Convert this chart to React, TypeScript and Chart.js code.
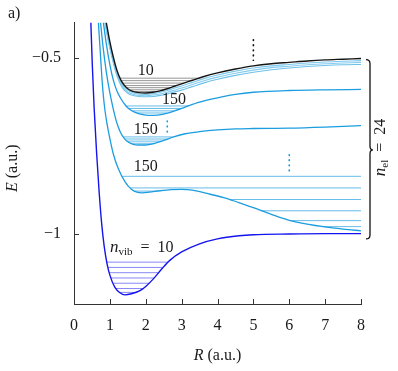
import React, { useEffect, useRef } from 'react';
import { Chart, registerables } from 'chart.js';

Chart.register(...registerables);

const FONT = '"Liberation Serif", "DejaVu Serif", serif';

const X_TICKS = [0, 1, 2, 3, 4, 5, 6, 7, 8];
const Y_TICKS = [-1, -0.5];

// Potential curves (R in a.u., E in a.u.)
const R_BLACK = [0.9, 1.0, 1.1, 1.2, 1.3, 1.4, 1.5, 1.6, 1.8, 2.0, 2.2, 2.4, 2.6, 2.8, 3.0, 3.3, 3.6, 4.0, 4.5, 5.0, 5.5, 6.0, 6.5, 7.0, 7.5, 8.0];
const E_BLACK = [-0.40, -0.455, -0.50, -0.537, -0.562, -0.578, -0.588, -0.594, -0.599, -0.600, -0.598, -0.594, -0.588, -0.581, -0.574, -0.564, -0.554, -0.543, -0.532, -0.523, -0.517, -0.513, -0.509, -0.506, -0.504, -0.502];

const R_LB1 = [0.88, 0.98, 1.08, 1.18, 1.28, 1.38, 1.5, 1.6, 1.8, 2.0, 2.2, 2.4, 2.6, 2.8, 3.0, 3.3, 3.6, 4.0, 4.5, 5.0, 5.5, 6.0, 6.5, 7.0, 7.5, 8.0];
const E_LB1 = [-0.40, -0.455, -0.50, -0.538, -0.564, -0.581, -0.592, -0.598, -0.603, -0.604, -0.602, -0.598, -0.593, -0.586, -0.580, -0.570, -0.560, -0.549, -0.538, -0.529, -0.523, -0.519, -0.515, -0.512, -0.510, -0.508];

const R_LB2 = [0.87, 0.97, 1.07, 1.17, 1.27, 1.37, 1.5, 1.6, 1.8, 2.0, 2.2, 2.4, 2.6, 2.8, 3.0, 3.3, 3.6, 4.0, 4.5, 5.0, 5.5, 6.0, 6.5, 7.0, 7.5, 8.0];
const E_LB2 = [-0.40, -0.455, -0.50, -0.539, -0.566, -0.584, -0.597, -0.602, -0.607, -0.608, -0.606, -0.603, -0.598, -0.592, -0.586, -0.576, -0.566, -0.555, -0.544, -0.535, -0.528, -0.524, -0.520, -0.517, -0.515, -0.513];

const R_LB3 = [0.86, 0.96, 1.06, 1.16, 1.26, 1.36, 1.5, 1.6, 1.8, 2.0, 2.2, 2.4, 2.6, 2.8, 3.0, 3.3, 3.6, 4.0, 4.5, 5.0, 5.5, 6.0, 6.5, 7.0, 7.5, 8.0];
const E_LB3 = [-0.40, -0.455, -0.50, -0.540, -0.568, -0.587, -0.601, -0.606, -0.610, -0.611, -0.610, -0.607, -0.603, -0.597, -0.592, -0.582, -0.572, -0.561, -0.550, -0.541, -0.534, -0.529, -0.525, -0.522, -0.520, -0.519];

const R_C1 = [0.82, 0.9, 1.0, 1.1, 1.2, 1.3, 1.45, 1.6, 1.8, 2.0, 2.2, 2.5, 2.8, 3.1, 3.5, 4.0, 4.5, 5.0, 6.0, 7.0, 8.0];
const E_C1 = [-0.40, -0.46, -0.52, -0.565, -0.595, -0.615, -0.637, -0.650, -0.659, -0.663, -0.664, -0.660, -0.651, -0.640, -0.626, -0.614, -0.604, -0.598, -0.593, -0.591, -0.590];

const R_C2 = [0.74, 0.8, 0.9, 1.0, 1.1, 1.2, 1.3, 1.4, 1.5, 1.65, 1.8, 2.0, 2.2, 2.5, 2.8, 3.1, 3.5, 4.0, 4.5, 5.0, 6.0, 7.0, 8.0];
const E_C2 = [-0.40, -0.46, -0.54, -0.60, -0.648, -0.687, -0.713, -0.729, -0.739, -0.746, -0.748, -0.748, -0.745, -0.735, -0.724, -0.716, -0.710, -0.705, -0.702, -0.701, -0.700, -0.697, -0.693];

const R_C3 = [0.68, 0.73, 0.78, 0.84, 0.9, 1.0, 1.1, 1.23, 1.42, 1.6, 1.75, 1.9, 2.1, 2.4, 2.7, 3.0, 3.3, 3.8, 4.2, 4.6, 5.0, 5.5, 6.0, 6.5, 7.0, 7.5, 8.0];
const E_C3 = [-0.40, -0.48, -0.56, -0.63, -0.675, -0.73, -0.775, -0.814, -0.852, -0.874, -0.882, -0.884, -0.882, -0.878, -0.875, -0.874, -0.876, -0.888, -0.898, -0.912, -0.926, -0.945, -0.962, -0.973, -0.981, -0.987, -0.992];

const R_BLUE = [0.47, 0.51, 0.56, 0.63, 0.70, 0.77, 0.84, 0.92, 1.0, 1.14, 1.28, 1.42, 1.6, 1.84, 2.0, 2.2, 2.45, 2.67, 3.0, 3.5, 4.0, 4.6, 5.0, 6.0, 7.0, 8.0];
const E_BLUE = [-0.40, -0.52, -0.64, -0.77, -0.88, -0.97, -1.035, -1.085, -1.118, -1.153, -1.168, -1.174, -1.171, -1.162, -1.150, -1.130, -1.100, -1.076, -1.052, -1.029, -1.015, -1.006, -1.003, -1.001, -1.0, -1.0];

// Vibrational levels (E in a.u.)
const LEVELS_BLACK = [-0.558, -0.565, -0.572, -0.579, -0.585, -0.591, -0.596];
const LEVELS_C1 = [-0.637, -0.644, -0.651, -0.657];
const LEVELS_C2 = [-0.725, -0.731, -0.737, -0.743];
const LEVELS_C3 = [-0.837, -0.870, -0.903, -0.935, -0.963, -0.980];
const LEVELS_C3_WELL = [-0.879];
const LEVELS_BLUE = [-1.081, -1.096, -1.111, -1.126, -1.141, -1.156, -1.167];

// Vertical dotted markers
const DOT_BLACK_R = [5.0, 5.0];
const DOT_BLACK_E = [-0.449, -0.507];
const DOT_CA_R = [2.6, 2.6];
const DOT_CA_E = [-0.68, -0.715];
const DOT_CB_R = [6.0, 6.0];
const DOT_CB_E = [-0.776, -0.823];

const pts = (rs: number[], es: number[]) => rs.map((x, i) => ({ x, y: es[i] }));

function levelSegments(rs: number[], es: number[], levels: number[], firstOnly = false) {
  const out: { x: number; y: number | null }[] = [];
  for (const lv of levels) {
    let start: number | null = null;
    let count = 0;
    for (let i = 0; i < rs.length; i++) {
      const below = es[i] < lv;
      if (i === 0) {
        if (below) start = rs[0];
        continue;
      }
      const prevBelow = es[i - 1] < lv;
      if (below !== prevBelow) {
        const t = (lv - es[i - 1]) / (es[i] - es[i - 1]);
        const xc = rs[i - 1] + t * (rs[i] - rs[i - 1]);
        if (below) start = xc;
        else if (start !== null) {
          out.push({ x: start, y: lv }, { x: xc, y: lv }, { x: xc, y: null });
          count++;
          start = null;
          if (firstOnly) break;
        }
      }
    }
    if (start !== null && !(firstOnly && count > 0)) {
      const xe = rs[rs.length - 1];
      out.push({ x: start, y: lv }, { x: xe, y: lv }, { x: xe, y: null });
    }
  }
  return out;
}

const curve = (rs: number[], es: number[], color: string, width = 1.3) => ({
  data: pts(rs, es),
  borderColor: color,
  borderWidth: width,
  pointRadius: 0,
  fill: false,
  cubicInterpolationMode: 'monotone' as const,
});

const levels = (data: any[], color: string) => ({
  data,
  borderColor: color,
  borderWidth: 0.9,
  pointRadius: 0,
  fill: false,
  tension: 0,
  spanGaps: false,
});

const dots = (rs: number[], es: number[], color: string) => ({
  data: pts(rs, es),
  borderColor: color,
  borderWidth: 1.7,
  borderDash: [0.5, 4.6],
  borderCapStyle: 'round' as const,
  pointRadius: 0,
  fill: false,
});

type Part = { t: string; font: string; dy?: number };
function drawParts(ctx: CanvasRenderingContext2D, parts: Part[], cx: number, baseY: number) {
  let w = 0;
  for (const p of parts) {
    ctx.font = p.font;
    w += ctx.measureText(p.t).width;
  }
  let x = cx - w / 2;
  ctx.textAlign = 'left';
  ctx.textBaseline = 'alphabetic';
  for (const p of parts) {
    ctx.font = p.font;
    ctx.fillText(p.t, x, baseY + (p.dy || 0));
    x += ctx.measureText(p.t).width;
  }
}

const F = (size: number, italic = false) => `${italic ? 'italic ' : ''}${size}px ${FONT}`;

const decor = {
  id: 'decor',
  afterDraw(chart: any) {
    const { ctx, chartArea: a } = chart;
    const x = chart.scales.x;
    const y = chart.scales.y;
    ctx.save();
    // inward ticks
    ctx.strokeStyle = '#333';
    ctx.lineWidth = 1;
    ctx.beginPath();
    for (const v of X_TICKS) {
      if (v === 0) continue;
      const px = Math.round(x.getPixelForValue(v)) + 0.5;
      ctx.moveTo(px, a.bottom);
      ctx.lineTo(px, a.bottom - 5);
    }
    for (const v of Y_TICKS) {
      const py = Math.round(y.getPixelForValue(v)) + 0.5;
      ctx.moveTo(a.left, py);
      ctx.lineTo(a.left + 5, py);
    }
    ctx.stroke();

    ctx.fillStyle = '#1a1a1a';
    // panel label
    ctx.font = F(16);
    ctx.textAlign = 'left';
    ctx.textBaseline = 'alphabetic';
    ctx.fillText('a)', 8, 18);

    // axis titles
    drawParts(ctx, [{ t: 'R', font: F(16, true) }, { t: ' (a.u.)', font: F(16) }], (a.left + a.right) / 2, 360);
    ctx.save();
    ctx.translate(16.5, (a.top + a.bottom) / 2 + 5);
    ctx.rotate(-Math.PI / 2);
    drawParts(ctx, [{ t: 'E', font: F(16, true) }, { t: ' (a.u.)', font: F(16) }], 0, 0);
    ctx.restore();

    // annotations
    const label = (t: string, r: number, e: number) => {
      ctx.font = F(16);
      ctx.textAlign = 'center';
      ctx.textBaseline = 'middle';
      ctx.fillText(t, x.getPixelForValue(r), y.getPixelForValue(e));
    };
    label('10', 2.0, -0.538);
    label('150', 2.79, -0.619);
    label('150', 2.0, -0.704);
    label('150', 2.0, -0.809);

    drawParts(
      ctx,
      [
        { t: 'n', font: F(17, true) },
        { t: 'vib', font: F(11), dy: 3 },
        { t: '\u2002=\u200210', font: F(16) },
      ],
      x.getPixelForValue(1.89),
      y.getPixelForValue(-1.053)
    );

    // brace
    const bx = a.right + 5;
    const yT = y.getPixelForValue(-0.505);
    const yB = y.getPixelForValue(-1.015);
    const yM = y.getPixelForValue(-0.762);
    const r = 4;
    ctx.strokeStyle = '#111';
    ctx.lineWidth = 1.3;
    ctx.beginPath();
    ctx.moveTo(bx, yT);
    ctx.quadraticCurveTo(bx + r, yT, bx + r, yT + r);
    ctx.lineTo(bx + r, yM - r);
    ctx.quadraticCurveTo(bx + r, yM, bx + r + 3, yM);
    ctx.moveTo(bx + r + 3, yM);
    ctx.quadraticCurveTo(bx + r, yM, bx + r, yM + r);
    ctx.lineTo(bx + r, yB - r);
    ctx.quadraticCurveTo(bx + r, yB, bx, yB);
    ctx.stroke();

    ctx.save();
    ctx.translate(a.right + 24, y.getPixelForValue(-0.755));
    ctx.rotate(-Math.PI / 2);
    drawParts(
      ctx,
      [
        { t: 'n', font: F(17, true) },
        { t: 'el', font: F(11), dy: 3 },
        { t: '\u2002=\u200224', font: F(16) },
      ],
      0,
      0
    );
    ctx.restore();

    ctx.restore();
  },
};

export default function App() {
  const ref = useRef<HTMLCanvasElement | null>(null);
  useEffect(() => {
    if (!ref.current) return;
    const datasets: any[] = [
      curve(R_BLACK, E_BLACK, '#141414', 1.4),
      curve(R_LB1, E_LB1, '#7cc8ee', 1.1),
      curve(R_LB2, E_LB2, '#86ccef', 1.1),
      curve(R_LB3, E_LB3, '#6fc0ea', 1.1),
      curve(R_C1, E_C1, '#1c9de0', 1.3),
      curve(R_C2, E_C2, '#1c9de0', 1.3),
      curve(R_C3, E_C3, '#1c9de0', 1.3),
      curve(R_BLUE, E_BLUE, '#1414ee', 1.4),
      dots(DOT_BLACK_R, DOT_BLACK_E, '#111'),
      dots(DOT_CA_R, DOT_CA_E, '#1c9de0'),
      dots(DOT_CB_R, DOT_CB_E, '#1c9de0'),
      levels(levelSegments(R_BLACK, E_BLACK, LEVELS_BLACK), '#8a8a8a'),
      levels(levelSegments(R_C1, E_C1, LEVELS_C1), '#55b3e6'),
      levels(levelSegments(R_C2, E_C2, LEVELS_C2), '#55b3e6'),
      levels(levelSegments(R_C3, E_C3, LEVELS_C3), '#55b3e6'),
      levels(levelSegments(R_C3, E_C3, LEVELS_C3_WELL, true), '#55b3e6'),
      levels(levelSegments(R_BLUE, E_BLUE, LEVELS_BLUE), '#7a7af5'),
    ];
    const chart = new Chart(ref.current, {
      type: 'line',
      data: { datasets },
      options: {
        animation: false,
        responsive: false,
        maintainAspectRatio: false,
        layout: { padding: { top: 19, right: 37, left: 0, bottom: 0 } },
        plugins: { legend: { display: false }, tooltip: { enabled: false } },
        scales: {
          x: {
            type: 'linear',
            min: 0,
            max: 8,
            afterFit: (s: any) => {
              s.height = 67;
            },
            afterBuildTicks: (s: any) => {
              s.ticks = X_TICKS.map((v) => ({ value: v }));
            },
            grid: { display: false, drawTicks: false },
            border: { display: true, color: '#333', width: 1 },
            ticks: {
              padding: 12,
              color: '#1a1a1a',
              font: { family: FONT, size: 16 },
              maxRotation: 0,
              autoSkip: false,
              callback: (v: any) => String(v),
            },
          },
          y: {
            type: 'linear',
            min: -1.2,
            max: -0.4,
            afterFit: (s: any) => {
              s.width = 74;
            },
            afterBuildTicks: (s: any) => {
              s.ticks = Y_TICKS.map((v) => ({ value: v }));
            },
            grid: { display: false, drawTicks: false },
            border: { display: true, color: '#333', width: 1 },
            ticks: {
              padding: 13,
              color: '#1a1a1a',
              font: { family: FONT, size: 16 },
              autoSkip: false,
              callback: (v: any) => (v < 0 ? '\u2212' : '') + String(Math.abs(v)),
            },
          },
        },
      },
      plugins: [decor],
    });
    return () => chart.destroy();
  }, []);
  return (
    <div style={{ position: 'fixed', left: 0, top: 0, width: 398, height: 371, background: '#fff' }}>
      <canvas ref={ref} width={398} height={371} style={{ width: 398, height: 371, display: 'block' }} />
    </div>
  );
}
